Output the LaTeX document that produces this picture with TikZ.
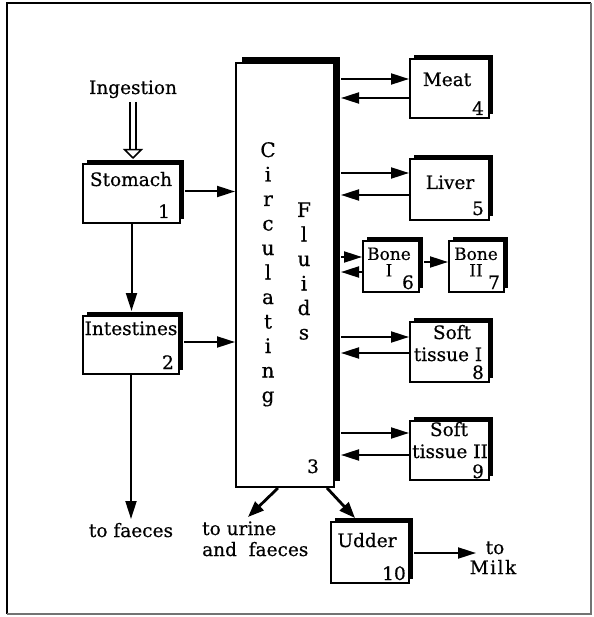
\documentclass[tikz,border=0pt]{standalone}
\usepackage{fontspec}
\setmainfont{DejaVu Serif}[FakeBold=0.5]
\usetikzlibrary{arrows.meta,calc}
\begin{document}
\begin{tikzpicture}[x=1pt,y=-1pt,
  every node/.style={font=\fontsize{18.5}{21}\selectfont, inner sep=0pt},
  blk/.style 2 args={draw, line width=2pt, fill=white, rectangle,
    minimum width=#1, minimum height=#2,
    preaction={fill=black, transform canvas={xshift=4pt, yshift=4pt}}},
  bigblk/.style 2 args={draw, line width=2pt, fill=white, rectangle,
    minimum width=#1, minimum height=#2,
    preaction={fill=black, transform canvas={xshift=6pt, yshift=6pt}}},
  arr/.style={line width=2pt, -{Triangle[length=18pt,width=11pt]}},
  darr/.style={line width=2.8pt, -{Triangle[length=16pt,width=12pt]}},
  lbl/.style={anchor=base},
  two/.style={align=center, font=\fontsize{17}{16.5}\selectfont},
  vl/.style={anchor=base, font=\fontsize{20}{20}\selectfont}
]
\useasboundingbox (0,0) rectangle (593,617);
% frame
\draw[line width=1.5pt] (7,614) -- (7,3) -- (591,3);
\draw[line width=1.5pt, black!55] (591,3) -- (591,614) -- (7,614);

% boxes
\node[bigblk={98pt}{424pt}] (circ) at (285,275) {};
\node[blk={97pt}{59pt}] (stomach) at (131.5,193.5) {};
\node[blk={96pt}{58pt}] (intest) at (131,345) {};
\node[blk={79pt}{59pt}] (meat) at (449.5,88.5) {};
\node[blk={79pt}{61pt}] (liver) at (449.5,189.5) {};
\node[blk={56pt}{51pt}] (bone1) at (391,266.5) {};
\node[blk={55pt}{51pt}] (bone2) at (476.5,266.5) {};
\node[blk={79pt}{60pt}] (soft1) at (449.5,352) {};
\node[blk={79pt}{59pt}] (soft2) at (449.5,450.5) {};
\node[blk={78pt}{61pt}] (udder) at (370,552.5) {};

% labels
\node[lbl] (ingl) at (133,94) {Ingestion};
\node[lbl] (stl) at (131,186) {Stomach};
\node[lbl] (stn) at (164,218) {1};
\node[lbl] (inl) at (131,335) {Intestines};
\node[lbl] (inn) at (168,369) {2};
\node[lbl] (circn) at (313,473) {3};
\node[lbl] (meatl) at (447,86) {Meat};
\node[lbl] (meatn) at (478,115) {4};
\node[lbl] (livl) at (450,189) {Liver};
\node[lbl] (livn) at (478,215) {5};
\node[two] (b1l) at (389,262) {Bone\\I};
\node[lbl] (b1n) at (408,289) {6};
\node[two] (b2l) at (476,262) {Bone\\II};
\node[lbl] (b2n) at (494,289) {7};
\node[lbl] (s1a) at (452,339) {Soft};
\node[lbl] (s1b) at (448,361) {tissue I};
\node[lbl] (s1n) at (478,379) {8};
\node[lbl] (s2a) at (449,436) {Soft};
\node[lbl] (s2b) at (450,458) {tissue II};
\node[lbl] (s2n) at (478,478) {9};
\node[lbl] (udl) at (367,547) {Udder};
\node[lbl] (udn) at (394,580) {10};
\node[lbl] (faec) at (131,537) {to faeces};
\node[anchor=base west] (ur1) at (202,535) {to urine};
\node[anchor=base west] (ur2) at (202,556) {and\ \ faeces};
\node[lbl] (to) at (495,554) {to};
\node[lbl] (milk) at (493,574) {M\kern1.5pt i\kern1.5pt l\kern1.5pt k};

% vertical words
\foreach \l [count=\i from 0] in {C,i,r,c,u,l,a,t,i,n,g}
  \node[vl] (cw\i) at (268,157+24.5*\i) {\l};
\foreach \l [count=\i from 0] in {F,l,u,i,d,s}
  \node[vl] (fw\i) at (304,217+24.5*\i) {\l};

% connectors
\draw[line width=1.4pt, double distance=4.5pt,
  -{Triangle[open, length=10pt, width=20pt, line width=1.5pt]}]
  ([yshift=-8pt]ingl.base) -- ([yshift=4pt]stomach.north -| ingl.base);
\draw[arr] ([xshift=4pt,yshift=2pt]stomach.east) -- (circ.west |- 0,191.5);
\draw[arr] (stomach.south) -- ([yshift=4pt]stomach.south |- intest.north);
\draw[arr] ([xshift=4pt]intest.east |- 0,342) -- (circ.west |- 0,342);
\draw[arr] (intest.south) -- ([yshift=18pt]intest.south |- faec.base);

\draw[arr] ([xshift=6pt]circ.east |- 0,79) -- (meat.west |- 0,79);
\draw[arr] (meat.west |- 0,98) -- ([xshift=6pt]circ.east |- 0,98);
\draw[arr] ([xshift=6pt]circ.east |- 0,173) -- (liver.west |- 0,173);
\draw[arr] (liver.west |- 0,195) -- ([xshift=6pt]circ.east |- 0,195);
\draw[arr] ([xshift=6pt]circ.east |- 0,257) -- (bone1.west |- 0,257);
\draw[arr] (bone1.west |- 0,272) -- ([xshift=6pt]circ.east |- 0,272);
\draw[arr] ([xshift=4pt]bone1.east |- 0,262) -- (bone2.west |- 0,262);
\draw[arr] ([xshift=6pt]circ.east |- 0,337) -- (soft1.west |- 0,337);
\draw[arr] (soft1.west |- 0,353) -- ([xshift=6pt]circ.east |- 0,353);
\draw[arr] ([xshift=6pt]circ.east |- 0,433) -- (soft2.west |- 0,433);
\draw[arr] (soft2.west |- 0,455) -- ([xshift=6pt]circ.east |- 0,455);

\coordinate (urtip) at (248,517);
\coordinate (udtip) at (355,518);
\coordinate (milktip) at (476,553);
\draw[darr] ([xshift=-7pt]circ.south) -- (urtip);
\draw[darr] ([xshift=42pt]circ.south) -- (udtip);
\draw[arr] ([xshift=4pt]udder.east |- 0,553) -- (milktip);
\end{tikzpicture}
\end{document}
